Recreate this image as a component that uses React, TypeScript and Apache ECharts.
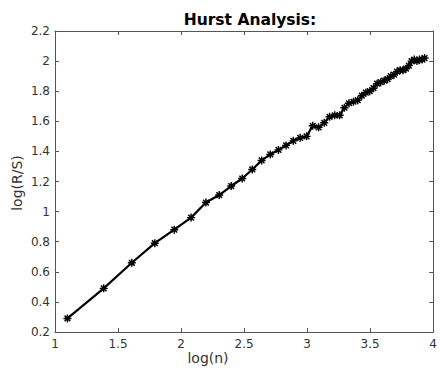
import React, { useEffect, useRef } from "react";
import * as echarts from "echarts";

// window sizes n (x is log(n))
const windowSizes = [
  3, 4, 5, 6, 7, 8, 9, 10, 11, 12, 13, 14, 15, 16, 17, 18, 19, 20, 21, 22, 23, 24, 25, 26, 27,
  28, 29, 30, 31, 32, 33, 34, 35, 36, 37, 38, 39, 40, 41, 42, 43, 44, 45, 46, 47, 48, 49, 50, 51,
];
// log(R/S)
const logRS = [
  0.29, 0.49, 0.66, 0.79, 0.88, 0.96, 1.06, 1.11, 1.17, 1.22, 1.28, 1.34, 1.38, 1.41, 1.44, 1.47,
  1.49, 1.5, 1.57, 1.56, 1.59, 1.63, 1.64, 1.64, 1.69, 1.72, 1.73, 1.74, 1.77, 1.79, 1.8, 1.82,
  1.85, 1.86, 1.87, 1.88, 1.9, 1.91, 1.93, 1.94, 1.94, 1.95, 1.97, 2.0, 2.01, 2.0, 2.01, 2.01, 2.02,
];
const xTicks = { min: 1, max: 4, interval: 0.5 };
const yTicks = { min: 0.2, max: 2.2, interval: 0.2 };

const titleText = "Hurst Analysis:";
const xName = "log(n)";
const yName = "log(R/S)";

const STAR =
  "path://M-0.9,-5L0.9,-5L0.9,5L-0.9,5Z M-5,-0.9L5,-0.9L5,0.9L-5,0.9Z M-2.9,-4.2L4.2,2.9L2.9,4.2L-4.2,-2.9Z M2.9,-4.2L4.2,-2.9L-2.9,4.2L-4.2,2.9Z";

export default function App() {
  const ref = useRef<HTMLDivElement>(null);
  useEffect(() => {
    if (!ref.current) return;
    const chart = echarts.init(ref.current, undefined, { renderer: "svg" });
    const fmt = (v: number) => String(+v.toFixed(1));
    const axisColor = "#555555";
    const font = "DejaVu Sans";
    const data = windowSizes.map((n, i) => [Math.log(n), logRS[i]]);
    const baseX = {
      type: "value",
      ...xTicks,
      axisLine: { show: true, onZero: false, lineStyle: { color: axisColor, width: 1 } },
      axisTick: { show: true, inside: true, length: 4, lineStyle: { color: axisColor } },
      splitLine: { show: false },
    };
    const baseY = {
      type: "value",
      ...yTicks,
      axisLine: { show: true, onZero: false, lineStyle: { color: axisColor, width: 1 } },
      axisTick: { show: true, inside: true, length: 4, lineStyle: { color: axisColor } },
      splitLine: { show: false },
    };
    chart.setOption({
      animation: false,
      backgroundColor: "#ffffff",
      grid: { left: 55, right: 4, top: 31, bottom: 39, containLabel: false },
      title: {
        text: titleText,
        left: 245,
        textAlign: "center",
        top: 7,
        textStyle: { fontFamily: font, fontSize: 15.5, fontWeight: "bold", color: "#000000" },
      },
      xAxis: [
        {
          ...baseX,
          position: "bottom",
          axisLabel: { show: true, formatter: fmt, margin: 6, fontFamily: font, fontSize: 12, color: "#333333" },
        },
        { ...baseX, position: "top", axisLabel: { show: false } },
      ],
      yAxis: [
        {
          ...baseY,
          position: "left",
          axisLabel: { show: true, formatter: fmt, margin: 5, fontFamily: font, fontSize: 12, color: "#333333" },
        },
        { ...baseY, position: "right", axisLabel: { show: false } },
      ],
      graphic: [
        {
          type: "text",
          x: 208,
          y: 358,
          style: {
            text: xName,
            fontFamily: font,
            fontSize: 14,
            fill: "#333333",
            textAlign: "center",
            textVerticalAlign: "middle",
          },
        },
        {
          type: "text",
          x: 17,
          y: 183,
          rotation: Math.PI / 2,
          style: {
            text: yName,
            fontFamily: font,
            fontSize: 14,
            fill: "#333333",
            textAlign: "center",
            textVerticalAlign: "middle",
          },
        },
      ],
      series: [
        {
          type: "line",
          data,
          xAxisIndex: 0,
          yAxisIndex: 0,
          lineStyle: { color: "#000000", width: 2.2 },
          itemStyle: { color: "#000000" },
          symbol: STAR,
          symbolSize: 8,
          showSymbol: true,
          showAllSymbol: true,
        },
      ],
    });
    return () => chart.dispose();
  }, []);
  return <div ref={ref} style={{ width: 440, height: 371, position: "absolute", left: 0, top: 0 }} />;
}
